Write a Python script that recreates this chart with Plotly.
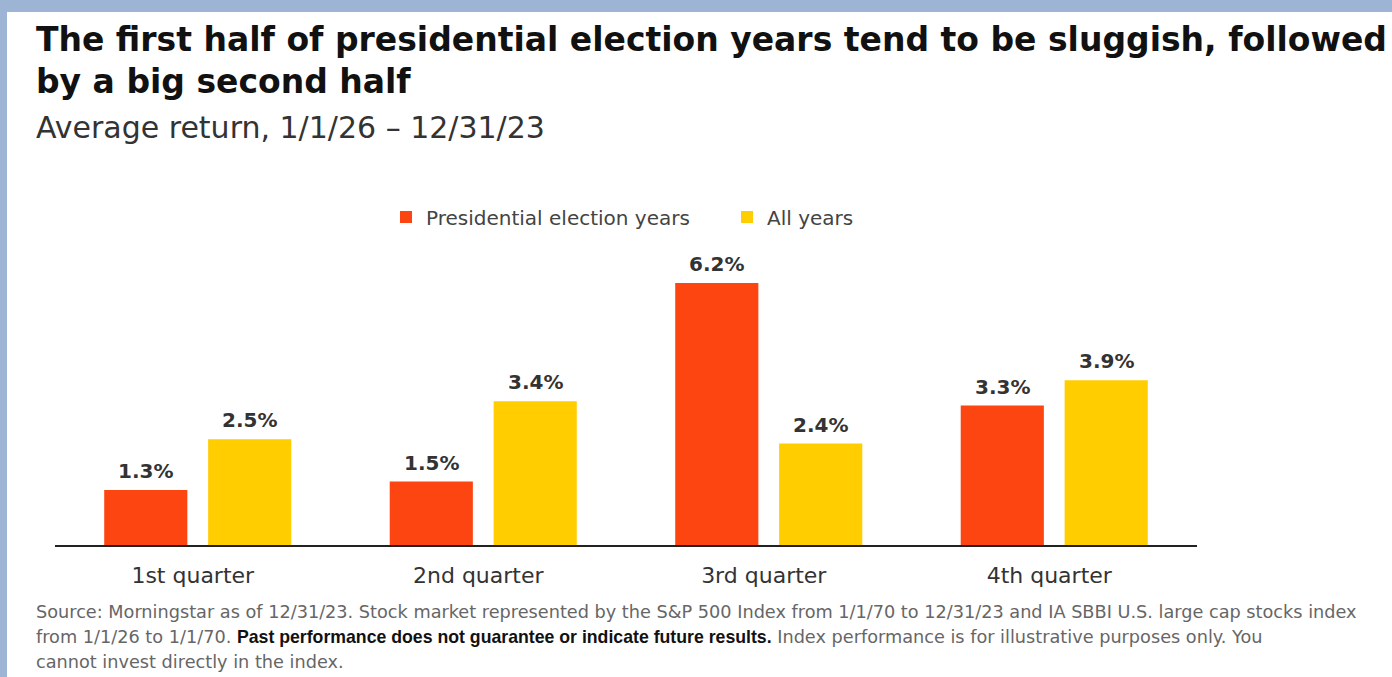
import plotly.graph_objects as go

categories = ["1st quarter", "2nd quarter", "3rd quarter", "4th quarter"]
election_years = [1.3, 1.5, 6.2, 3.3]
all_years = [2.5, 3.4, 2.4, 3.9]
series_names = ["Presidential election years", "All years"]

W, H = 1392, 677
ML, MR, MT, MB = 55, 195, 200, 132
PW, PH = W - ML - MR, H - MT - MB


def px_x(px):
    return (px - ML) / PW


def px_y(py):
    return (H - MB - py) / PH


RED = "#FC4511"
YEL = "#FFCD00"
SANS = "DejaVu Sans"

fig = go.Figure()
fig.add_trace(go.Bar(name=series_names[0], x=categories, y=election_years,
                     marker=dict(color=RED, line=dict(width=0))))
fig.add_trace(go.Bar(name=series_names[1], x=categories, y=all_years,
                     marker=dict(color=YEL, line=dict(width=0))))

annotations = []
for i, c in enumerate(categories):
    for vals, shift in ((election_years, -52), (all_years, 52)):
        annotations.append(dict(x=c, y=vals[i], xref="x", yref="y", text=f"{vals[i]:.1f}%",
                                showarrow=False, xshift=shift, yshift=5, yanchor="bottom",
                                font=dict(family=SANS, size=20, color="#333333", weight="bold")))

TITLE_FONT = dict(family=SANS, size=33, color="#111111", weight="bold")
FOOT_FONT = dict(family=SANS, size=17.7, color="#666666")
annotations += [
    dict(x=px_x(34), y=px_y(39), xref="paper", yref="paper", xanchor="left", yanchor="middle",
         text="The first half of presidential election years tend to be sluggish, followed",
         showarrow=False, font=TITLE_FONT),
    dict(x=px_x(34), y=px_y(82), xref="paper", yref="paper", xanchor="left", yanchor="middle",
         text="by a big second half",
         showarrow=False, font=TITLE_FONT),
    dict(x=px_x(34), y=px_y(127), xref="paper", yref="paper", xanchor="left", yanchor="middle",
         text="Average return, 1/1/26 – 12/31/23",
         showarrow=False, font=dict(family=SANS, size=30, color="#333333")),
    dict(x=px_x(34), y=px_y(612), xref="paper", yref="paper", xanchor="left", yanchor="middle",
         text="Source: Morningstar as of 12/31/23. Stock market represented by the S&P 500 Index from 1/1/70 to 12/31/23 and IA SBBI U.S. large cap stocks index",
         showarrow=False, font=FOOT_FONT),
    dict(x=px_x(34), y=px_y(637), xref="paper", yref="paper", xanchor="left", yanchor="middle",
         text="from 1/1/26 to 1/1/70. <b style='font-family:Liberation Sans;color:#111'>Past performance does not guarantee or indicate future results.</b> Index performance is for illustrative purposes only. You",
         showarrow=False, font=FOOT_FONT),
    dict(x=px_x(34), y=px_y(662), xref="paper", yref="paper", xanchor="left", yanchor="middle",
         text="cannot invest directly in the index.",
         showarrow=False, font=FOOT_FONT),
]

BLUE = "#9DB4D4"
shapes = [
    dict(type="rect", xref="paper", yref="paper", x0=px_x(-5), x1=px_x(W + 5), y0=px_y(-5), y1=px_y(12),
         fillcolor=BLUE, line=dict(width=0), layer="below"),
    dict(type="rect", xref="paper", yref="paper", x0=px_x(-5), x1=px_x(7), y0=px_y(H + 5), y1=px_y(-5),
         fillcolor=BLUE, line=dict(width=0), layer="below"),
]

fig.update_layout(
    width=W, height=H,
    margin=dict(l=ML, r=MR, t=MT, b=MB),
    paper_bgcolor="white", plot_bgcolor="white",
    barmode="group", bargap=0.272, bargroupgap=0.2,
    showlegend=True,
    legend=dict(orientation="h", x=px_x(386), y=px_y(217), xanchor="left", yanchor="middle",
                font=dict(family=SANS, size=20, color="#444444"),
                itemwidth=30, entrywidth=296, tracegroupgap=0, bgcolor="rgba(0,0,0,0)"),
    xaxis=dict(showline=True, linecolor="#222222", linewidth=2, ticks="", showgrid=False,
               tickfont=dict(family=SANS, size=22, color="#333333"),
               ticklabelstandoff=10, ticklabelshift=-5,
               range=[-0.5, 3.5]),
    yaxis=dict(range=[0, PH / 42.26], visible=False, showgrid=False, zeroline=False),
    annotations=annotations,
    shapes=shapes,
)

fig.write_html("out.html", config={"displayModeBar": False},
               post_script="document.body.style.margin='0';")
